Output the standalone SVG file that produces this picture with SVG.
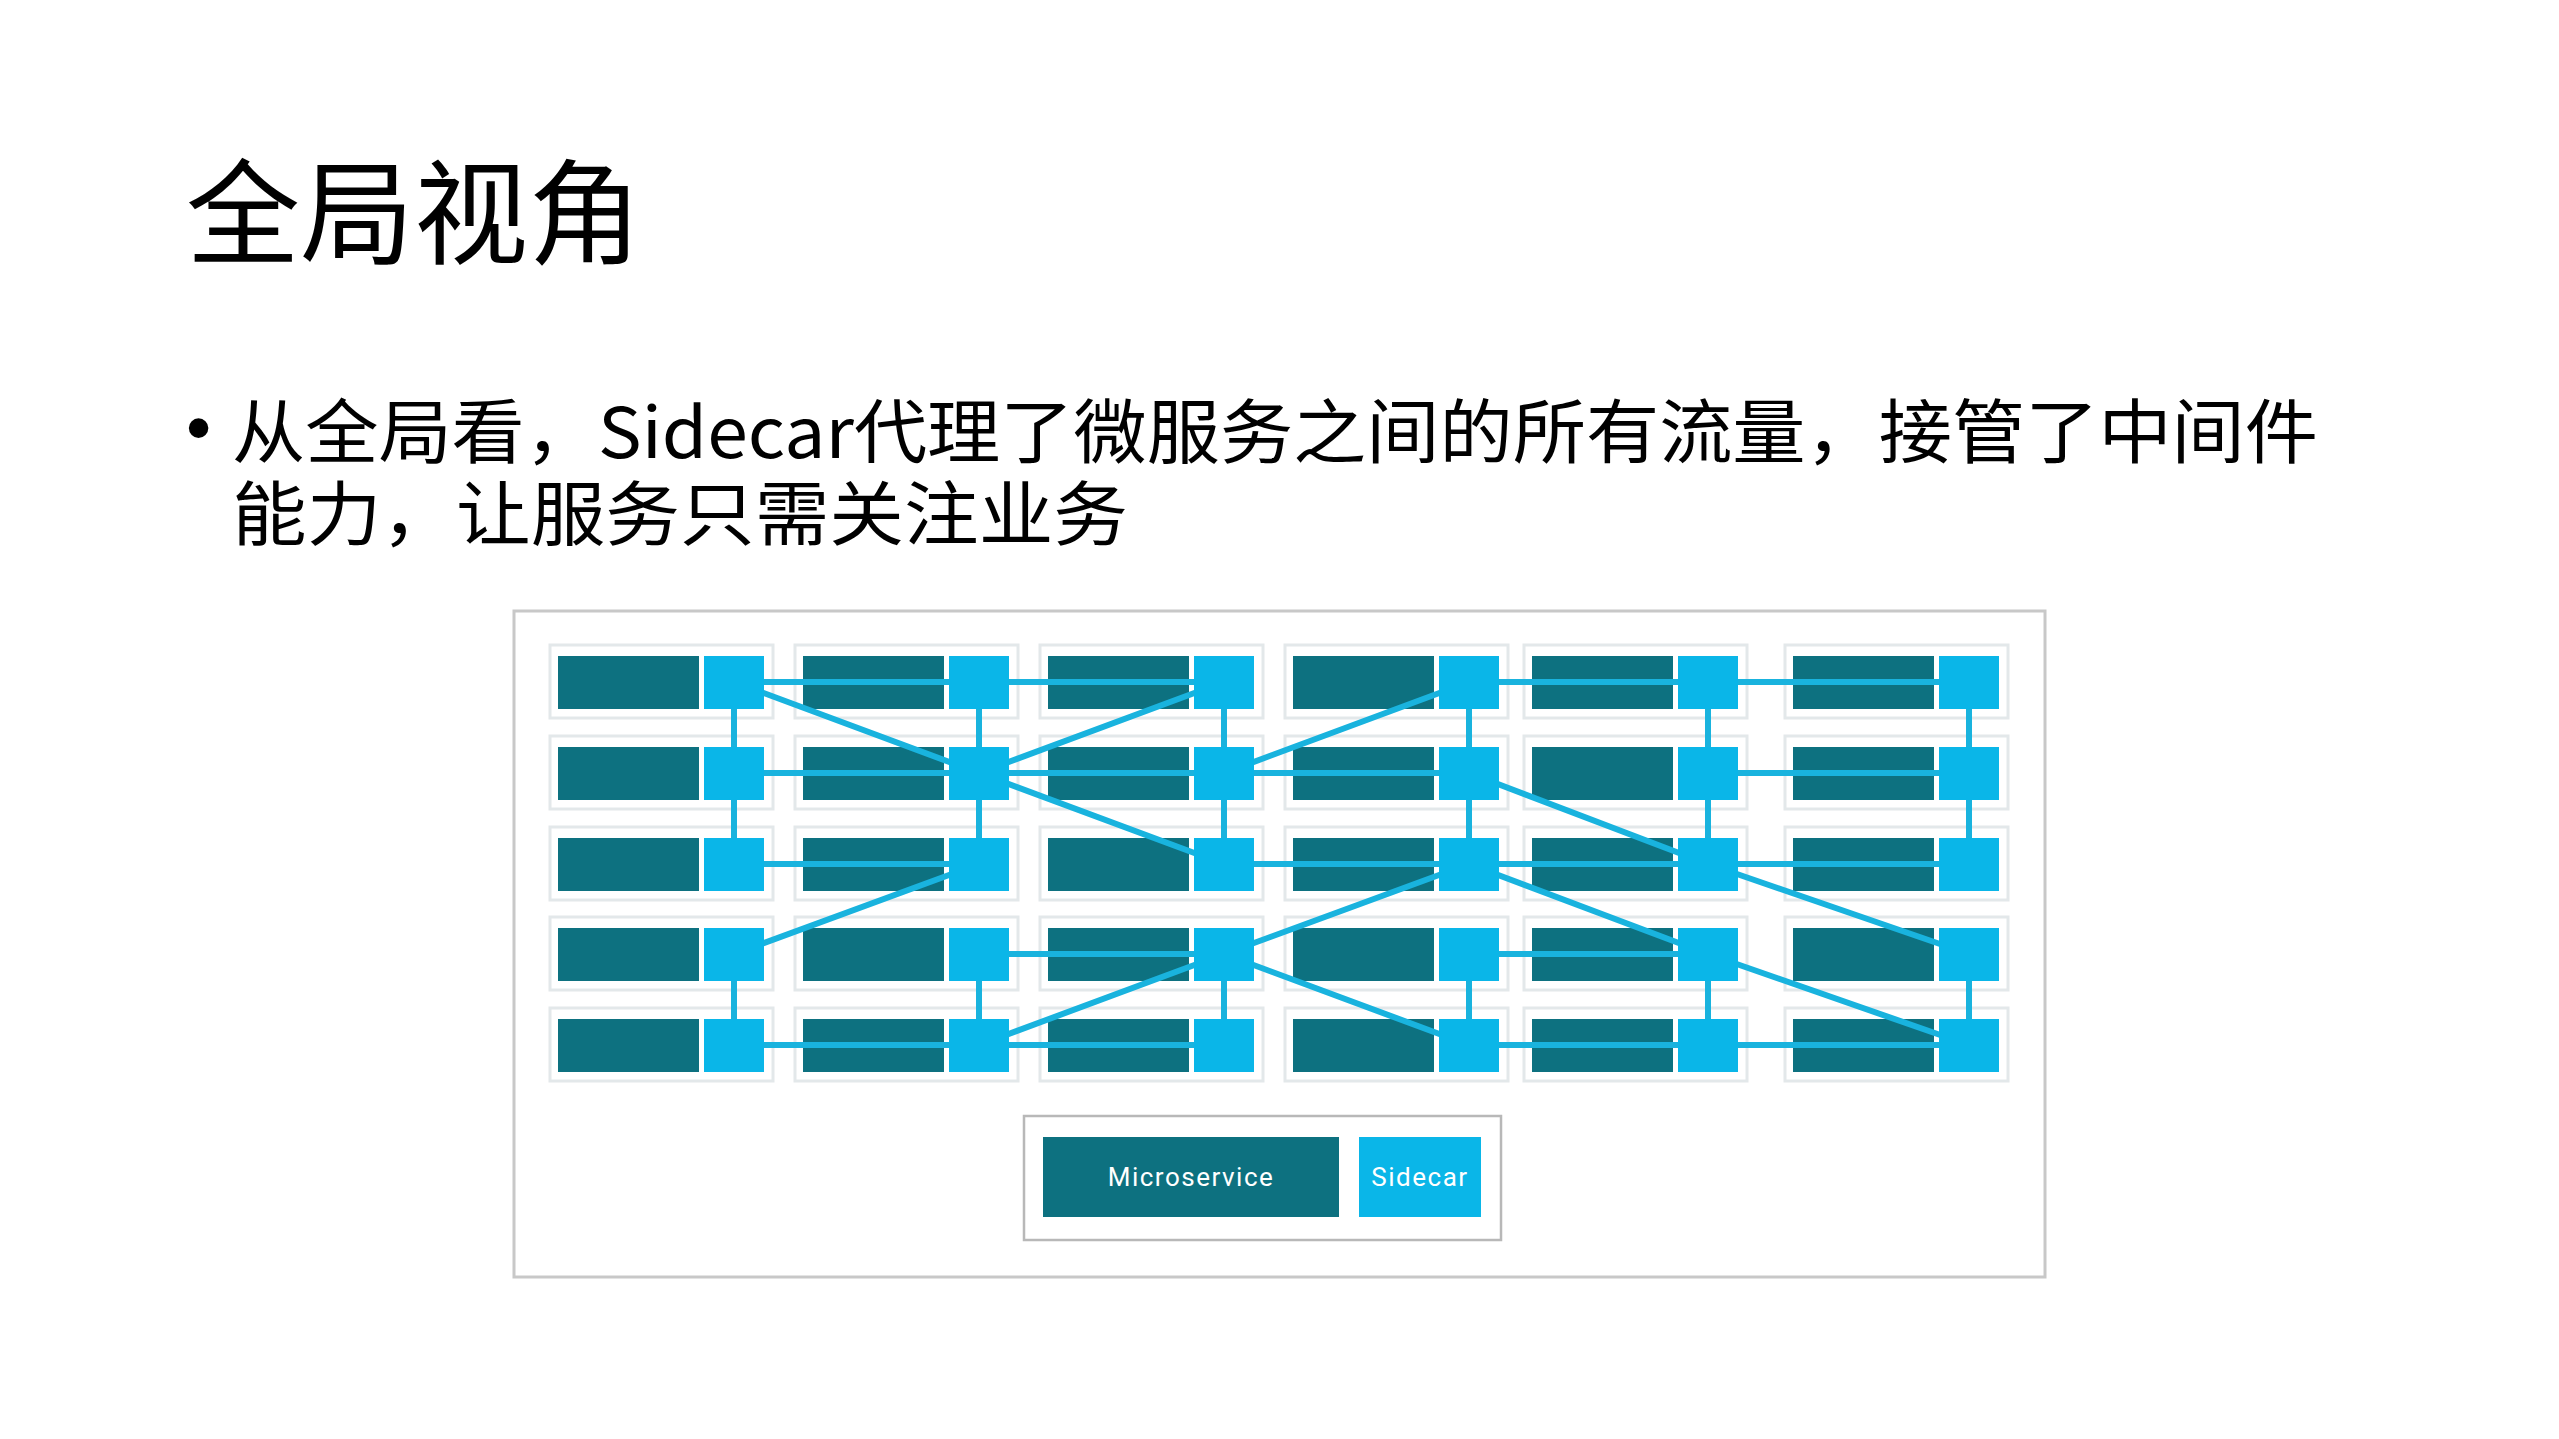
<svg xmlns="http://www.w3.org/2000/svg" width="2559" height="1439" viewBox="0 0 2559 1439">
<style>
.t{font-family:"Noto Sans CJK SC","Noto Sans",sans-serif;fill:#000}
.cell{fill:#fff;stroke:#e3e8ea;stroke-width:3}
.ms{fill:#0d7180}
.sc{fill:#0ab6e8}
.ln{stroke:#19b3de;stroke-width:6;fill:none}
.lg{font-family:Roboto,"DejaVu Sans",sans-serif;font-size:26px;fill:#fff;letter-spacing:1.5px;text-anchor:middle}
</style>
<defs>
<g id="cellA"><rect class="cell" x="-8" y="-11" width="223" height="73"/><rect class="ms" x="0" y="0" width="141" height="53"/></g>
<rect id="scA" class="sc" x="0" y="0" width="60" height="53"/>
</defs>
<rect width="2559" height="1439" fill="#fff"/>
<text class="t" x="186" y="255" font-size="114">全局视角</text>
<g id="bullet">
<text x="186" y="452" font-size="72" font-family="Liberation Sans,sans-serif">•</text>
<text class="t" x="232" y="458" font-size="70" textLength="2086" lengthAdjust="spacingAndGlyphs">从全局看，Sidecar代理了微服务之间的所有流量，接管了中间件</text>
<text class="t" x="232" y="540" font-size="70" textLength="896" lengthAdjust="spacingAndGlyphs">能力，让服务只需关注业务</text>
</g>
<rect id="frame" x="514" y="611" width="1531" height="666" fill="#fff" stroke="#c8c8c8" stroke-width="3"/>
<g id="cells">
<use href="#cellA" x="558" y="656"/><use href="#cellA" x="803" y="656"/><use href="#cellA" x="1048" y="656"/><use href="#cellA" x="1293" y="656"/><use href="#cellA" x="1532" y="656"/><use href="#cellA" x="1793" y="656"/>
<use href="#cellA" x="558" y="747"/><use href="#cellA" x="803" y="747"/><use href="#cellA" x="1048" y="747"/><use href="#cellA" x="1293" y="747"/><use href="#cellA" x="1532" y="747"/><use href="#cellA" x="1793" y="747"/>
<use href="#cellA" x="558" y="838"/><use href="#cellA" x="803" y="838"/><use href="#cellA" x="1048" y="838"/><use href="#cellA" x="1293" y="838"/><use href="#cellA" x="1532" y="838"/><use href="#cellA" x="1793" y="838"/>
<use href="#cellA" x="558" y="928"/><use href="#cellA" x="803" y="928"/><use href="#cellA" x="1048" y="928"/><use href="#cellA" x="1293" y="928"/><use href="#cellA" x="1532" y="928"/><use href="#cellA" x="1793" y="928"/>
<use href="#cellA" x="558" y="1019"/><use href="#cellA" x="803" y="1019"/><use href="#cellA" x="1048" y="1019"/><use href="#cellA" x="1293" y="1019"/><use href="#cellA" x="1532" y="1019"/><use href="#cellA" x="1793" y="1019"/>
</g>
<g id="connectors" class="ln">
<path d="M734 682H1224M1469 682H1969"/>
<path d="M734 773H1469M1708 773H1969"/>
<path d="M734 864H979M1224 864H1969"/>
<path d="M979 954H1224M1469 954H1708"/>
<path d="M734 1045H1224M1469 1045H1969"/>
<path d="M734 682V864M979 682V864M1224 682V864M1469 682V864M1708 682V864M1969 682V864"/>
<path d="M734 954V1045M979 954V1045M1224 954V1045M1469 954V1045M1708 954V1045M1969 954V1045"/>
<path d="M734 682L979 773M1224 682L979 773M1224 773L1469 682"/>
<path d="M979 773L1224 864M1469 773L1708 864"/>
<path d="M979 864L734 954M1708 864L1969 954M1469 864L1708 954M1469 864L1224 954"/>
<path d="M1224 954L979 1045M1224 954L1469 1045M1708 954L1969 1045"/>
</g>
<g id="sidecars">
<use href="#scA" x="704" y="656"/><use href="#scA" x="949" y="656"/><use href="#scA" x="1194" y="656"/><use href="#scA" x="1439" y="656"/><use href="#scA" x="1678" y="656"/><use href="#scA" x="1939" y="656"/>
<use href="#scA" x="704" y="747"/><use href="#scA" x="949" y="747"/><use href="#scA" x="1194" y="747"/><use href="#scA" x="1439" y="747"/><use href="#scA" x="1678" y="747"/><use href="#scA" x="1939" y="747"/>
<use href="#scA" x="704" y="838"/><use href="#scA" x="949" y="838"/><use href="#scA" x="1194" y="838"/><use href="#scA" x="1439" y="838"/><use href="#scA" x="1678" y="838"/><use href="#scA" x="1939" y="838"/>
<use href="#scA" x="704" y="928"/><use href="#scA" x="949" y="928"/><use href="#scA" x="1194" y="928"/><use href="#scA" x="1439" y="928"/><use href="#scA" x="1678" y="928"/><use href="#scA" x="1939" y="928"/>
<use href="#scA" x="704" y="1019"/><use href="#scA" x="949" y="1019"/><use href="#scA" x="1194" y="1019"/><use href="#scA" x="1439" y="1019"/><use href="#scA" x="1678" y="1019"/><use href="#scA" x="1939" y="1019"/>
</g>
<g id="legend">
<rect x="1024" y="1116" width="477" height="124" fill="#fff" stroke="#b8b8b8" stroke-width="2.5"/>
<g id="legend-microservice"><rect class="ms" x="1043" y="1137" width="296" height="80"/><text class="lg" x="1191" y="1186">Microservice</text></g>
<g id="legend-sidecar"><rect class="sc" x="1359" y="1137" width="122" height="80"/><text class="lg" x="1420" y="1186">Sidecar</text></g>
</g>
</svg>
